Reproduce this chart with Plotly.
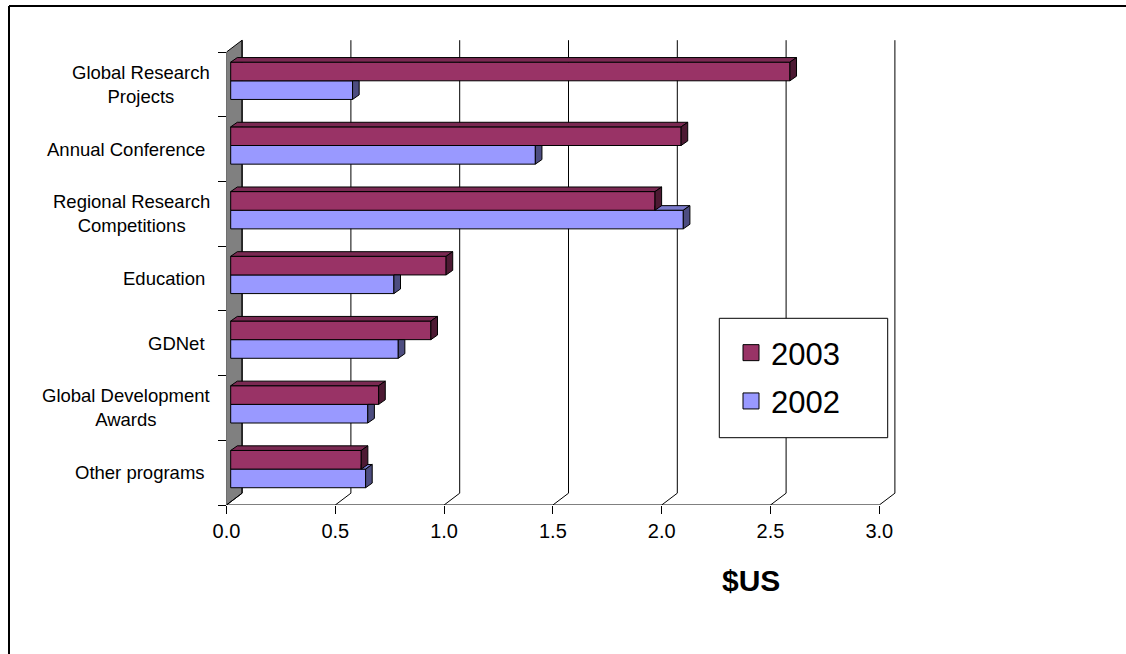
import plotly.graph_objects as go

# ---------------- data ----------------
labels = ["Global Research<br>Projects", "Annual Conference",
          "Regional Research<br>Competitions", "Education", "GDNet",
          "Global Development<br>Awards", "Other programs"]
series_names = ["2003", "2002"]
values_2003 = [2.57, 2.07, 1.95, 0.99, 0.92, 0.68, 0.60]
values_2002 = [0.56, 1.40, 2.08, 0.75, 0.77, 0.63, 0.62]
x_ticks = [0.0, 0.5, 1.0, 1.5, 2.0, 2.5, 3.0]
x_tick_text = ["0.0", "0.5", "1.0", "1.5", "2.0", "2.5", "3.0"]
x_title = "$US"

# ---------------- style / geometry ----------------
W, H = 1126, 654
FONT = "Liberation Sans, Arial, sans-serif"
C03, C03_TOP, C03_SIDE = "#993366", "#7a2952", "#4d1a33"
C02, C02_TOP, C02_SIDE = "#9999ff", "#7a7acc", "#4d4d80"
WALL = "#808080"

X0PX, SX = 226.5, 217.6      # pixel of x=0, pixels per unit
Y0PX, SY = 505.0, 64.714     # pixel of y=0 (floor front), pixels per category
XMAX, YMAX = 3.12, 7.35
dom_x = [X0PX / W, (X0PX + XMAX * SX) / W]
dom_y = [1 - Y0PX / H, 1 - (Y0PX - YMAX * SY) / H]

DX, DY = 15.6 / SX, 11.8 / SY      # depth of the chart box
FX = 4.2 / SX                      # front face of bars offset
BDX, BDY = 6.6 / SX, 4.6 / SY      # depth of bars
BW = 0.288                         # bar thickness (category units)
SPLIT = 0.555                      # boundary between the two bars inside a band

n = len(labels)
band = [n - 1 - i for i in range(n)]
y03 = [b + SPLIT + BW / 2 for b in band]
y02 = [b + SPLIT - BW / 2 for b in band]

fig = go.Figure()

# front faces of bars
fig.add_trace(go.Bar(orientation="h", y=y02, x=values_2002, base=FX, width=BW,
                     marker=dict(color=C02, line=dict(color="black", width=1)),
                     name=series_names[1], showlegend=False, hoverinfo="x"))
fig.add_trace(go.Bar(orientation="h", y=y03, x=values_2003, base=FX, width=BW,
                     marker=dict(color=C03, line=dict(color="black", width=1)),
                     name=series_names[0], showlegend=False, hoverinfo="x"))


def poly_trace(polys, color):
    xs, ys = [], []
    for p in polys:
        for (a, b) in p + [p[0]]:
            xs.append(a)
            ys.append(b)
        xs.append(None)
        ys.append(None)
    return go.Scatter(x=xs, y=ys, mode="lines", fill="toself", fillcolor=color,
                      line=dict(color="black", width=1), showlegend=False,
                      hoverinfo="skip")


top02, side02, top03, side03 = [], [], [], []
for v3, v2, yc3, yc2 in zip(values_2003, values_2002, y03, y02):
    # 2002 bar (lower)
    yb, yt = yc2 - BW / 2, yc2 + BW / 2
    e = FX + v2
    if v2 > v3:
        top02.append([(FX + v3, yt), (e, yt), (e + BDX, yt + BDY), (FX + v3, yt + BDY)])
        side02.append([(e, yb), (e, yt), (e + BDX, yt + BDY), (e + BDX, yb + BDY)])
    elif v2 + BDX < v3:
        side02.append([(e, yb), (e, yt), (e + BDX, yt), (e + BDX, yb + BDY)])
    else:
        side02.append([(e, yb), (e, yt), (e + BDX, yt + BDY), (e + BDX, yb + BDY)])
    # 2003 bar (upper)
    yb, yt = yc3 - BW / 2, yc3 + BW / 2
    e = FX + v3
    top03.append([(FX, yt), (e, yt), (e + BDX, yt + BDY), (FX + BDX, yt + BDY)])
    side03.append([(e, yb), (e, yt), (e + BDX, yt + BDY), (e + BDX, yb + BDY)])

if top02:
    fig.add_trace(poly_trace(top02, C02_TOP))
fig.add_trace(poly_trace(side02, C02_SIDE))
fig.add_trace(poly_trace(top03, C03_TOP))
fig.add_trace(poly_trace(side03, C03_SIDE))

# legend entries
fig.add_trace(go.Scatter(x=[None], y=[None], mode="markers", name=series_names[0],
                         marker=dict(symbol="square", size=16, color=C03,
                                     line=dict(color="black", width=1)),
                         legendgroup="a", legendrank=1))
fig.add_trace(go.Scatter(x=[None], y=[None], mode="markers", name=series_names[1],
                         marker=dict(symbol="square", size=16, color=C02,
                                     line=dict(color="black", width=1)),
                         legendgroup="b", legendrank=2))

# ---------------- 3D frame shapes ----------------
shapes = []
top = n
# side wall
shapes.append(dict(type="path", xref="x", yref="y", layer="below",
                   path=f"M 0,0 L {DX},{DY} L {DX},{top + DY} L 0,{top} Z",
                   fillcolor=WALL, line=dict(color="black", width=1)))
for v in x_ticks:
    shapes.append(dict(type="line", xref="x", yref="y", layer="below",
                       x0=v + DX, y0=DY, x1=v + DX, y1=top + DY,
                       line=dict(color="black", width=1)))
    shapes.append(dict(type="line", xref="x", yref="y", layer="below",
                       x0=v, y0=0, x1=v + DX, y1=DY,
                       line=dict(color="black", width=1)))
shapes.append(dict(type="line", xref="x", yref="y", layer="below",
                   x0=0, y0=0, x1=x_ticks[-1], y1=0, line=dict(color="black", width=1)))
# legend box
shapes.append(dict(type="rect", xref="paper", yref="paper", layer="above",
                   x0=719.3 / W, x1=887.7 / W, y0=1 - 437.7 / H, y1=1 - 318.3 / H,
                   fillcolor="white", line=dict(color="black", width=1)))
# outer frame (top and left edges)
shapes.append(dict(type="line", xref="paper", yref="paper", x0=9 / W, x1=1.0,
                   y0=1 - 6 / H, y1=1 - 6 / H, line=dict(color="black", width=2)))
shapes.append(dict(type="line", xref="paper", yref="paper", x0=9 / W, x1=9 / W,
                   y0=0, y1=1 - 6 / H, line=dict(color="black", width=2)))

annotations = []
for lab, b in zip(labels, band):
    annotations.append(dict(x=0, y=b + 0.5, xref="x", yref="y", text=lab,
                            xanchor="right", yanchor="middle", align="center",
                            xshift=-15 if "<br>" in lab else -20, showarrow=False,
                            font=dict(family=FONT, size=18.5, color="black")))
annotations.append(dict(x=751 / W, y=1 - 580 / H, xref="paper", yref="paper",
                        text=f"<b>{x_title}</b>", showarrow=False,
                        xanchor="center", yanchor="middle",
                        font=dict(family=FONT, size=30, color="black")))

fig.update_layout(
    width=W, height=H, autosize=False,
    margin=dict(l=0, r=0, t=0, b=0, autoexpand=False),
    paper_bgcolor="white", plot_bgcolor="white",
    barmode="overlay",
    font=dict(family=FONT, color="black"),
    shapes=shapes, annotations=annotations,
    xaxis=dict(domain=dom_x, range=[0, XMAX], tickvals=x_ticks, ticktext=x_tick_text,
               ticks="outside", ticklen=8, tickcolor="black", showgrid=False,
               zeroline=False, showline=False, tickfont=dict(size=20, family=FONT),
               fixedrange=True, automargin=False),
    yaxis=dict(domain=dom_y, range=[0, YMAX], tickvals=list(range(n + 1)),
               ticks="outside", ticklen=8, tickcolor="black", showgrid=False,
               zeroline=False, showline=False, showticklabels=False, fixedrange=True,
               automargin=False),
    legend=dict(x=731 / W, y=1 - 326 / H, xanchor="left", yanchor="top",
                bgcolor="rgba(0,0,0,0)", borderwidth=0,
                font=dict(size=31, family=FONT, color="black"),
                traceorder="grouped", tracegroupgap=5),
    showlegend=True,
)

fig.write_html("out.html")
